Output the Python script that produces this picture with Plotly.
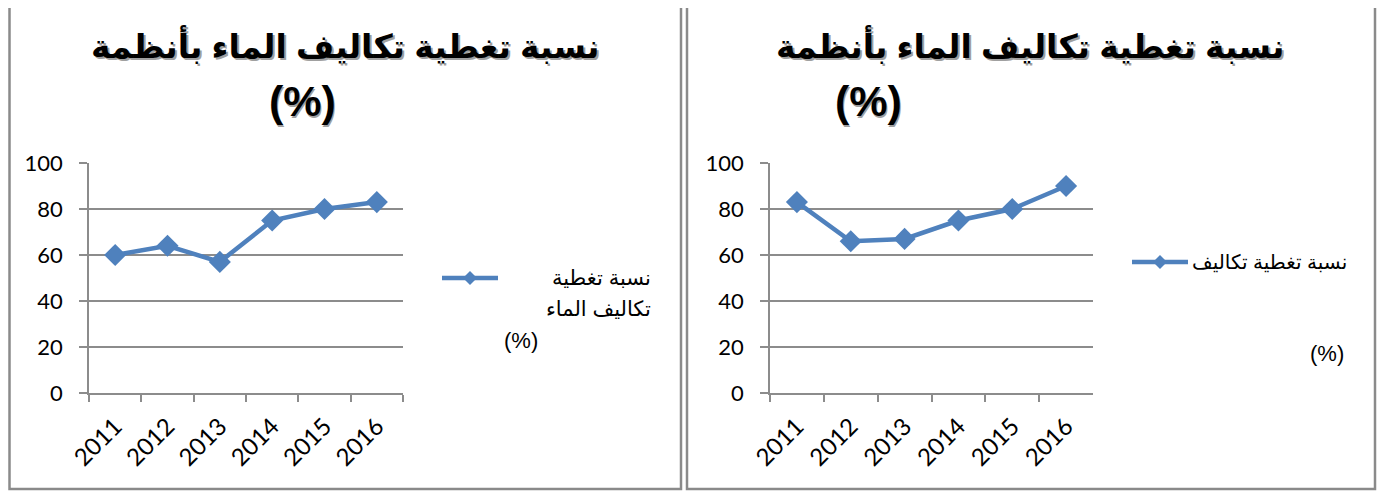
import plotly.graph_objects as go

# page body adds an 8px margin, so the figure is drawn from (8, 8)
OFF = 8
W, H = 1390 - OFF, 492 - OFF

years = ["2011", "2012", "2013", "2014", "2015", "2016"]
left_values = [60, 64, 57, 75, 80, 83]
right_values = [83, 66, 67, 75, 80, 90]
y_ticks = [0, 20, 40, 60, 80, 100]

title_line1 = "نسبة تغطية تكاليف الماء بأنظمة"
title_line2 = "(%)"
left_legend_lines = ["نسبة تغطية", "تكاليف الماء", "(%)"]
right_legend_lines = ["نسبة تغطية تكاليف", "(%)"]

BLUE = "#4F81BD"
GRID = "#8C8C8C"
BORDER = "#8A8A8A"
YTICK_FONT = dict(family="Lato, Carlito, Arial", size=22, color="#000000")
XTICK_FONT = dict(family="Lato, Carlito, Arial", size=24, color="#000000")
AR_FONT = "Liberation Sans, Arial, DejaVu Sans"


def px(x):
    return (x - OFF) / W


def py(y):
    return 1 - (y - OFF) / H


fig = go.Figure()

fig.add_trace(go.Scatter(
    x=years, y=left_values, mode="lines+markers", xaxis="x", yaxis="y",
    line=dict(color=BLUE, width=4.5),
    marker=dict(symbol="diamond", size=17, color=BLUE),
    showlegend=False, hoverinfo="skip"))
fig.add_trace(go.Scatter(
    x=years, y=right_values, mode="lines+markers", xaxis="x2", yaxis="y2",
    line=dict(color=BLUE, width=4.5),
    marker=dict(symbol="diamond", size=17, color=BLUE),
    showlegend=False, hoverinfo="skip"))

xcommon = dict(
    type="category", categoryorder="array", categoryarray=years,
    range=[-0.5, 5.5], tickson="boundaries", ticks="outside", ticklen=7,
    tickcolor=GRID, tickwidth=1.5, showline=True, linecolor=GRID, linewidth=1.5,
    showgrid=False, tickangle=-45, tickfont=XTICK_FONT, zeroline=False,
    ticklabelstandoff=8, fixedrange=True, automargin=False)
ycommon = dict(
    range=[0, 100], tickvals=y_ticks, ticks="outside", ticklen=8,
    tickcolor=GRID, tickwidth=1.5, showline=True, linecolor=GRID, linewidth=1.5,
    showgrid=True, gridcolor=GRID, gridwidth=1.5, tickfont=YTICK_FONT,
    zeroline=False, ticklabelstandoff=12, fixedrange=True, automargin=False)

fig.update_layout(
    width=W, height=H, autosize=False,
    margin=dict(l=0, r=0, t=0, b=0, pad=0, autoexpand=False),
    paper_bgcolor="white", plot_bgcolor="white",
    xaxis=dict(domain=[px(89), px(403)], anchor="y", **xcommon),
    yaxis=dict(domain=[py(393), py(163)], anchor="x", **ycommon),
    xaxis2=dict(domain=[px(770), px(1093)], anchor="y2", **xcommon),
    yaxis2=dict(domain=[py(393), py(163)], anchor="x2", **ycommon),
)

shapes = []
# panel frames (left, bottom, right sides)
for x0, x1 in [(9.5, 681), (687, 1375)]:
    shapes.append(dict(
        type="path", xref="paper", yref="paper",
        path=f"M {px(x0)} {py(0)} L {px(x0)} {py(489)} L {px(x1)} {py(489)} L {px(x1)} {py(0)}",
        line=dict(color=BORDER, width=2.5)))

# legend keys
for (lx0, lx1, ly) in [(442, 498, 278), (1132, 1188, 262)]:
    shapes.append(dict(type="line", xref="paper", yref="paper",
                       x0=px(lx0), x1=px(lx1), y0=py(ly), y1=py(ly),
                       line=dict(color=BLUE, width=4.5)))
    cx = (lx0 + lx1) / 2
    d = 7
    shapes.append(dict(
        type="path", xref="paper", yref="paper",
        path=f"M {px(cx-d)} {py(ly)} L {px(cx)} {py(ly-d)} L {px(cx+d)} {py(ly)} L {px(cx)} {py(ly+d)} Z",
        fillcolor=BLUE, line=dict(color=BLUE, width=0)))
fig.update_layout(shapes=shapes)

annotations = []
for cx1, cx2 in [(345, 302), (1030, 868)]:
    for (txt, cx, cy, fs) in [(title_line1, cx1, 45, 33), (title_line2, cx2, 101, 43)]:
        # soft shadow
        annotations.append(dict(
            text=f"<b>{txt}</b>", x=px(cx + 1.5), y=py(cy + 1.5), xref="paper", yref="paper",
            xanchor="center", yanchor="middle", showarrow=False,
            font=dict(family=AR_FONT, size=fs, color="#A0A0A0")))
        annotations.append(dict(
            text=f"<b>{txt}</b>", x=px(cx), y=py(cy), xref="paper", yref="paper",
            xanchor="center", yanchor="middle", showarrow=False,
            font=dict(family=AR_FONT, size=fs, color="#000000")))


def legend_text(txt, x, y, anchor, size):
    return dict(text=txt, x=px(x), y=py(y), xref="paper", yref="paper",
                xanchor=anchor, yanchor="middle", showarrow=False,
                font=dict(family=AR_FONT, size=size, color="#000"))


annotations.append(legend_text(left_legend_lines[0], 653, 277, "right", 21))
annotations.append(legend_text(left_legend_lines[1], 653, 308, "right", 21))
annotations.append(legend_text(left_legend_lines[2], 521, 340, "center", 22))
annotations.append(legend_text(right_legend_lines[0], 1349, 262, "right", 20))
annotations.append(legend_text(right_legend_lines[1], 1327, 353, "center", 22))
fig.update_layout(annotations=annotations)

fig.write_html("out.html")
